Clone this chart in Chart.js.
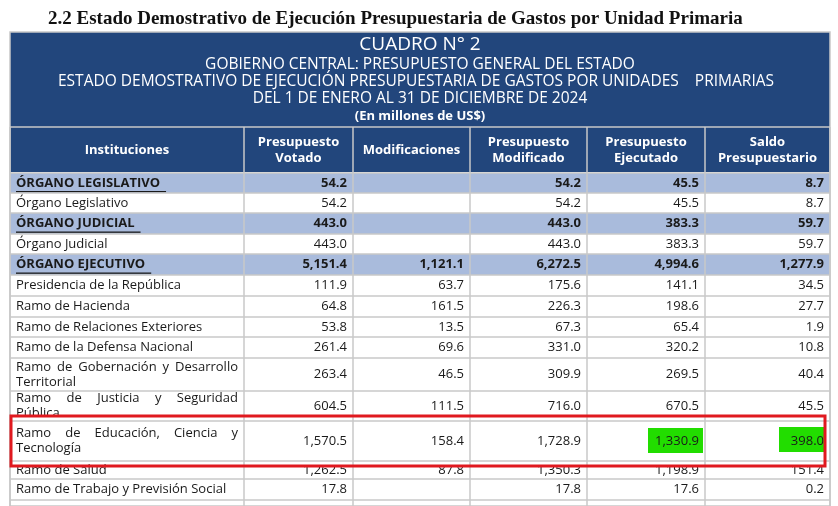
<!DOCTYPE html>
<html lang="es">
<head>
<meta charset="UTF-8">
<title>Cuadro N° 2</title>
<script src="https://cdn.jsdelivr.net/npm/chart.js"></script>
<style>
  body { margin: 0; background: white; overflow: hidden; }
  #wrap { width: 838px; height: 506px; }
</style>
</head>
<body>
<div id="wrap"><canvas id="c" width="838" height="506"></canvas></div>
<script>
// table content
const pageTitle = "2.2 Estado Demostrativo de Ejecución Presupuestaria de Gastos por Unidad Primaria";
const headerLines = [
  "CUADRO N° 2",
  "GOBIERNO CENTRAL: PRESUPUESTO GENERAL DEL ESTADO",
  "ESTADO DEMOSTRATIVO DE EJECUCIÓN PRESUPUESTARIA DE GASTOS POR UNIDADES    PRIMARIAS",
  "DEL 1 DE ENERO AL 31 DE DICIEMBRE DE 2024",
  "(En millones de US$)"
];
const columns = [["Instituciones"], ["Presupuesto", "Votado"], ["Modificaciones"],
  ["Presupuesto", "Modificado"], ["Presupuesto", "Ejecutado"], ["Saldo", "Presupuestario"]];
const institutions = [
  ["ÓRGANO LEGISLATIVO"], ["Órgano Legislativo"], ["ÓRGANO JUDICIAL"], ["Órgano Judicial"],
  ["ÓRGANO EJECUTIVO"], ["Presidencia de la República"], ["Ramo de Hacienda"],
  ["Ramo de Relaciones Exteriores"], ["Ramo de la Defensa Nacional"],
  ["Ramo de Gobernación y Desarrollo", "Territorial"], ["Ramo de Justicia y Seguridad", "Pública"],
  ["Ramo de Educación, Ciencia y", "Tecnología"], ["Ramo de Salud"], ["Ramo de Trabajo y Previsión Social"]
];
const isGroup = [true, false, true, false, true, false, false, false, false, false, false, false, false, false];
const votado =      ["54.2", "54.2", "443.0", "443.0", "5,151.4", "111.9", "64.8", "53.8", "261.4", "263.4", "604.5", "1,570.5", "1,262.5", "17.8"];
const modificac =   ["", "", "", "", "1,121.1", "63.7", "161.5", "13.5", "69.6", "46.5", "111.5", "158.4", "87.8", ""];
const modificado =  ["54.2", "54.2", "443.0", "443.0", "6,272.5", "175.6", "226.3", "67.3", "331.0", "309.9", "716.0", "1,728.9", "1,350.3", "17.8"];
const ejecutado =   ["45.5", "45.5", "383.3", "383.3", "4,994.6", "141.1", "198.6", "65.4", "320.2", "269.5", "670.5", "1,330.9", "1,198.9", "17.6"];
const saldo =       ["8.7", "8.7", "59.7", "59.7", "1,277.9", "34.5", "27.7", "1.9", "10.8", "40.4", "45.5", "398.0", "151.4", "0.2"];

// layout (page pixels)
const colEdges = [10, 244, 353, 470, 587, 705, 830];
const rowEdges = [173, 193, 213, 234, 254, 275, 296, 317, 337, 358, 391, 421, 461, 479, 500, 520];

const tablePlugin = {
  id: 'table',
  afterDraw(chart) {
    const ctx = chart.ctx, X = v => chart.scales.x.getPixelForValue(v), Y = v => chart.scales.y.getPixelForValue(v);
    const F = "'Open Sans', sans-serif";
    ctx.save();
    ctx.fillStyle = '#111';
    ctx.font = "bold 19px 'Liberation Serif', serif";
    ctx.textBaseline = 'middle';
    ctx.fillText(pageTitle, X(48), Y(19));
    // blue header
    ctx.fillStyle = '#22467c';
    ctx.fillRect(X(10), Y(32), X(830) - X(10), Y(172) - Y(32));
    ctx.fillStyle = '#fff'; ctx.textAlign = 'center';
    const hy = [45, 65, 82, 99, 116];
    headerLines.forEach((t, i) => {
      ctx.font = i === 0 ? `19px ${F}` : (i === 4 ? `bold 13px ${F}` : `15.5px ${F}`);
      ctx.fillText(t, X(i === 2 ? 416 : 420), Y(hy[i]));
    });
    ctx.font = `bold 13px ${F}`;
    columns.forEach((lines, c) => {
      const cx = (colEdges[c] + colEdges[c + 1]) / 2;
      lines.forEach((t, k) => ctx.fillText(t, X(cx), Y(150 + (k - (lines.length - 1) / 2) * 16)));
    });
    // body rows
    const cols = [votado, modificac, modificado, ejecutado, saldo];
    institutions.forEach((lines, r) => {
      const y0 = rowEdges[r], y1 = rowEdges[r + 1], ym = (y0 + y1) / 2;
      if (isGroup[r]) { ctx.fillStyle = '#a9bbdc'; ctx.fillRect(X(10), Y(y0), X(830) - X(10), Y(y1) - Y(y0)); }
      if (r === 11) {
        ctx.fillStyle = '#22dd00';
        ctx.fillRect(X(648), Y(428), X(703) - X(648), Y(453) - Y(428));
        ctx.fillRect(X(779), Y(427), X(826) - X(779), Y(452) - Y(427));
      }
      ctx.fillStyle = '#1a1a1a';
      ctx.font = (isGroup[r] ? 'bold ' : '') + `13px ${F}`;
      ctx.textAlign = 'left';
      lines.forEach((t, k) => {
        const ty = ym + (k - (lines.length - 1) / 2) * 15;
        if (lines.length > 1 && k === 0) {
          // justified first line
          const words = t.split(' '), w = 238 - 16;
          const tw = words.reduce((s, wd) => s + ctx.measureText(wd).width, 0);
          const gap = (w - tw) / (words.length - 1);
          let x = 16;
          words.forEach(wd => { ctx.fillText(wd, X(x), Y(ty)); x += ctx.measureText(wd).width + gap; });
        } else {
          ctx.fillText(t, X(16), Y(ty));
          if (isGroup[r]) {
            const w = ctx.measureText(t).width;
            ctx.fillRect(X(16), Y(ym + 8), w + 6, 1.3);
          }
        }
      });
      ctx.textAlign = 'right';
      cols.forEach((arr, c) => ctx.fillText(arr[r], X(colEdges[c + 2] - 6), Y(ym)));
    });
    // grid
    ctx.strokeStyle = '#c8c8c8'; ctx.lineWidth = 1.5;
    rowEdges.forEach(y => { ctx.beginPath(); ctx.moveTo(X(10), Y(y)); ctx.lineTo(X(830), Y(y)); ctx.stroke(); });
    colEdges.forEach(x => { ctx.beginPath(); ctx.moveTo(X(x), Y(127)); ctx.lineTo(X(x), Y(506)); ctx.stroke(); });
    ctx.beginPath(); ctx.moveTo(X(10), Y(127)); ctx.lineTo(X(830), Y(127)); ctx.stroke();
    ctx.strokeRect(X(10), Y(32), X(830) - X(10), Y(506) - Y(32));
    // red box
    ctx.strokeStyle = '#e0191f'; ctx.lineWidth = 3;
    ctx.strokeRect(X(11), Y(416), X(825) - X(11), Y(466) - Y(416));
    ctx.restore();
  }
};

new Chart(document.getElementById('c'), {
  type: 'scatter',
  data: { datasets: [{ data: [] }] },
  options: {
    responsive: false, animation: false,
    layout: { padding: 0 },
    plugins: { legend: { display: false }, tooltip: { enabled: false } },
    scales: {
      x: { type: 'linear', min: 0, max: 838, display: false },
      y: { type: 'linear', min: 0, max: 506, reverse: true, display: false }
    }
  },
  plugins: [tablePlugin]
});
</script>
</body>
</html>
